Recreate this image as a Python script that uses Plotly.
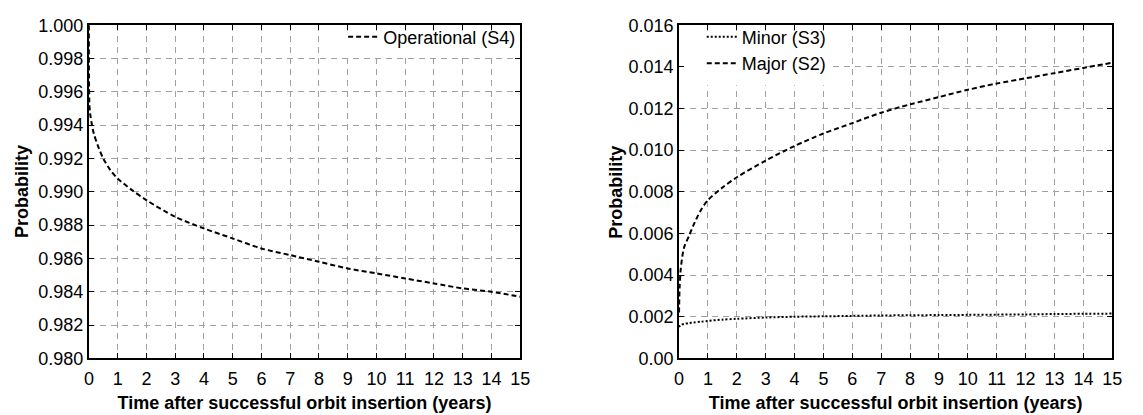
import plotly.graph_objects as go

# ---- data ----
t_years = [0, 0.02, 0.06, 0.17, 0.35, 0.5, 0.75, 1, 1.5, 2, 3, 4, 5, 6, 7, 8, 9, 10, 11, 12, 13, 14, 15]
operational_s4 = [1.000, 0.9952, 0.9945, 0.9935, 0.9926, 0.9920, 0.9913, 0.9908, 0.9901, 0.9895, 0.9885,
                  0.9878, 0.9872, 0.9866, 0.9862, 0.9858, 0.9854, 0.9851, 0.9848, 0.9845, 0.9842, 0.9840, 0.9837]
minor_s3 = [0.0015, 0.00155, 0.0016, 0.00165, 0.0017, 0.00172, 0.00176, 0.0018, 0.00186, 0.0019, 0.00196,
            0.0020, 0.00202, 0.00204, 0.00206, 0.00207, 0.00208, 0.00209, 0.0021, 0.00211, 0.00213, 0.00214, 0.00215]
major_s2 = [0.0022, 0.0034, 0.0043, 0.0053, 0.0059, 0.0064, 0.0071, 0.0076, 0.0082, 0.0087, 0.0095,
            0.0102, 0.0108, 0.0113, 0.0118, 0.0122, 0.01255, 0.0129, 0.0132, 0.01345, 0.0137, 0.01395, 0.0142]

x_ticks = list(range(0, 16))
left_yticks = [0.980, 0.982, 0.984, 0.986, 0.988, 0.990, 0.992, 0.994, 0.996, 0.998, 1.000]
left_yticktext = ["0.980", "0.982", "0.984", "0.986", "0.988", "0.990", "0.992", "0.994", "0.996", "0.998", "1.000"]
right_yticks = [0.0, 0.002, 0.004, 0.006, 0.008, 0.010, 0.012, 0.014, 0.016]
right_yticktext = ["0.00", "0.002", "0.004", "0.006", "0.008", "0.010", "0.012", "0.014", "0.016"]

x_title = "Time after successful orbit insertion (years)"
y_title = "Probability"

W, H = 1143, 415
FONT = "Liberation Sans, Arial, sans-serif"

x_range = [0, 15]
left_range = [0.980, 1.000]
right_range = [0.0, 0.016]


def frac(rng, f):
    return rng[0] + f * (rng[1] - rng[0])


fig = go.Figure()
fig.add_trace(go.Scatter(x=t_years, y=operational_s4, mode="lines", name="Operational (S4)",
                         line=dict(color="black", width=2, dash="5px,3px", shape="spline", smoothing=0.8),
                         xaxis="x", yaxis="y", legend="legend"))
fig.add_trace(go.Scatter(x=t_years, y=minor_s3, mode="lines", name="Minor (S3)",
                         line=dict(color="black", width=2, dash="2px,2px", shape="spline", smoothing=0.8),
                         xaxis="x2", yaxis="y2", legend="legend2"))
fig.add_trace(go.Scatter(x=t_years, y=major_s2, mode="lines", name="Major (S2)",
                         line=dict(color="black", width=2, dash="5px,3px", shape="spline", smoothing=0.8),
                         xaxis="x2", yaxis="y2", legend="legend2"))

axis_common = dict(
    showline=True, linecolor="black", linewidth=2, mirror="allticks",
    ticks="inside", ticklen=5, tickwidth=1, tickcolor="black",
    showgrid=True, gridcolor="#a0a0a0", gridwidth=1, griddash="6px,5px",
    zeroline=False, tickfont=dict(family=FONT, size=18, color="black"),
)

y0, y1 = 1 - 366 / H, 1 - 16 / H
title_font = dict(family=FONT, size=18, color="black")
transparent = "rgba(0,0,0,0)"

fig.update_layout(
    width=W, height=H,
    margin=dict(l=0, r=0, t=0, b=0),
    paper_bgcolor="white", plot_bgcolor="white",
    font=dict(family=FONT, color="black"),
    xaxis=dict(axis_common, domain=[85 / W, 522 / W], range=x_range, tickvals=x_ticks,
               ticklabelstandoff=3,
               title=dict(text="<b>" + x_title + "</b>", font=title_font, standoff=8),
               anchor="y"),
    yaxis=dict(axis_common, domain=[y0, y1], range=left_range, tickvals=left_yticks,
               ticktext=left_yticktext, anchor="x"),
    xaxis2=dict(axis_common, domain=[683 / W, 1122 / W], range=x_range, tickvals=x_ticks,
                ticklabelstandoff=3,
                title=dict(text="<b>" + x_title + "</b>", font=title_font, standoff=8),
                anchor="y2"),
    yaxis2=dict(axis_common, domain=[y0, y1], range=right_range, tickvals=right_yticks,
                ticktext=right_yticktext, anchor="x2"),
    legend=dict(x=523 / W, y=1 - 9 / H, xanchor="right", yanchor="top",
                bgcolor=transparent, borderwidth=0, font=dict(family=FONT, size=18),
                tracegroupgap=0),
    legend2=dict(x=706 / W, y=1 - 9 / H, xanchor="left", yanchor="top",
                 bgcolor=transparent, borderwidth=0, font=dict(family=FONT, size=18),
                 tracegroupgap=0),
    showlegend=True,
    shapes=[
        # white boxes behind the legends (hide the grid, stay under traces and axis lines)
        dict(type="rect", xref="x", yref="y", layer="between",
             x0=frac(x_range, 0.545), x1=frac(x_range, 0.995),
             y0=frac(left_range, 0.905), y1=frac(left_range, 0.982),
             fillcolor="white", line=dict(width=0)),
        dict(type="rect", xref="x2", yref="y2", layer="between",
             x0=frac(x_range, 0.006), x1=frac(x_range, 0.355),
             y0=frac(right_range, 0.82), y1=frac(right_range, 0.982),
             fillcolor="white", line=dict(width=0)),
    ],
    annotations=[
        dict(text="<b>" + y_title + "</b>", xref="paper", yref="paper",
             x=17.5 / W, y=(y0 + y1) / 2, xanchor="center", yanchor="middle",
             textangle=-90, showarrow=False, font=title_font),
        dict(text="<b>" + y_title + "</b>", xref="paper", yref="paper",
             x=619 / W, y=(y0 + y1) / 2, xanchor="center", yanchor="middle",
             textangle=-90, showarrow=False, font=title_font),
    ],
)

fig.write_html("out.html")
